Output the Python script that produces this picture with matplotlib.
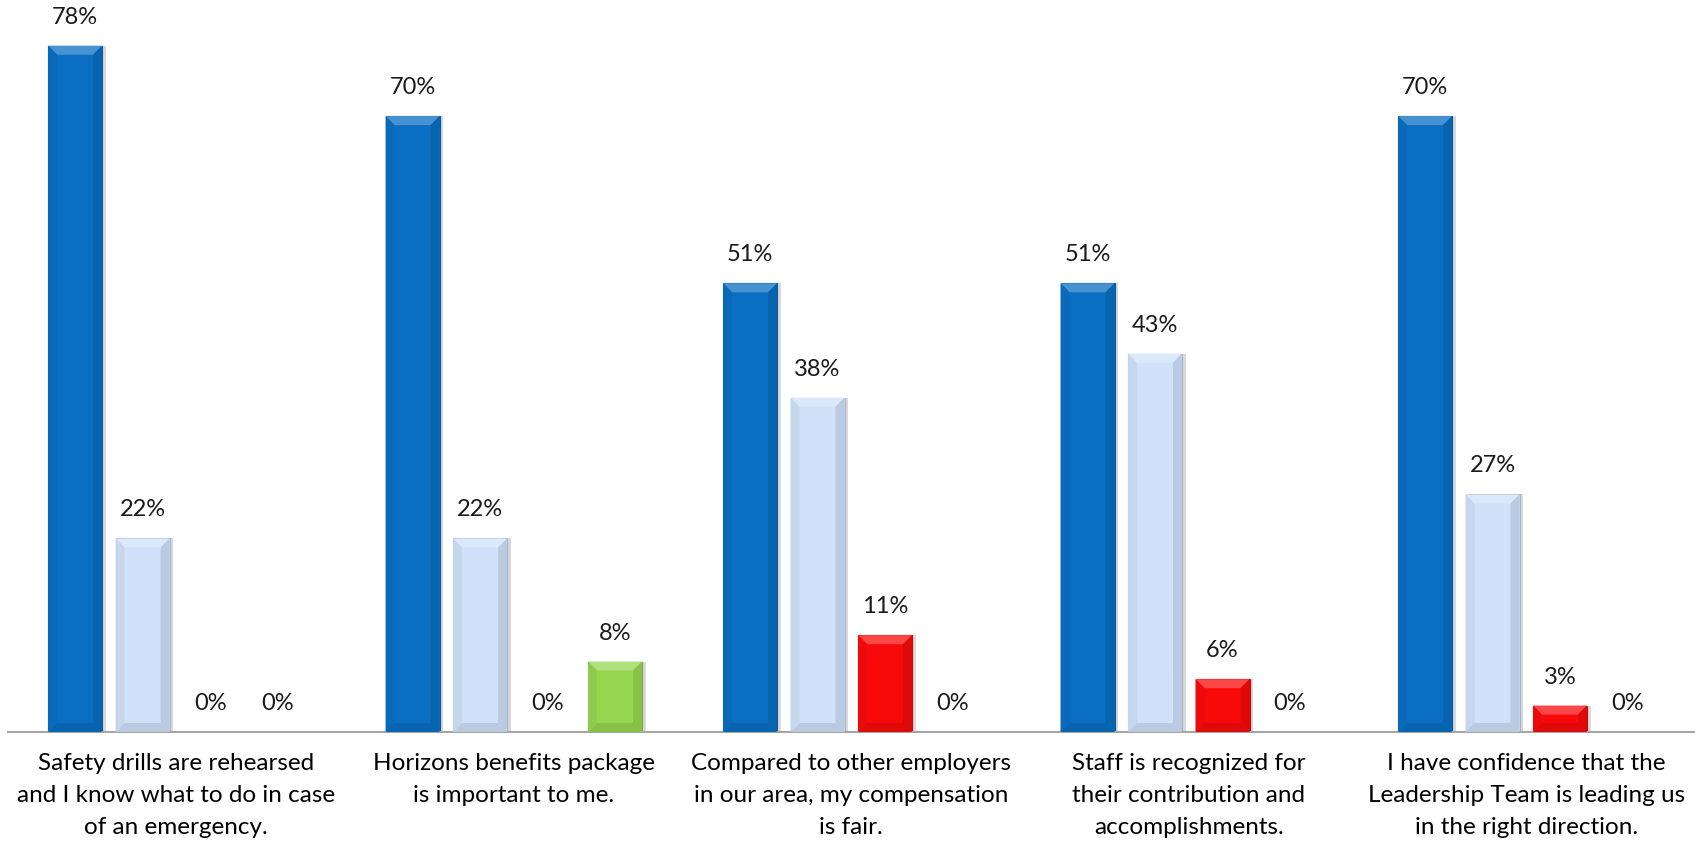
import numpy as np
import matplotlib.pyplot as plt
from matplotlib.patches import Polygon
import matplotlib.colors as mcolors

plt.rcParams['font.family'] = ['Lato', 'DejaVu Sans']

categories = [
    "Safety drills are rehearsed\nand I know what to do in case\nof an emergency.",
    "Horizons benefits package\nis important to me.",
    "Compared to other employers\nin our area, my compensation\nis fair.",
    "Staff is recognized for\ntheir contribution and\naccomplishments.",
    "I have confidence that the\nLeadership Team is leading us\nin the right direction.",
]
series_a = [78, 70, 51, 51, 70]   # dark blue
series_b = [22, 22, 38, 43, 27]   # light blue
series_c = [0, 0, 11, 6, 3]       # red
series_d = [0, 8, 0, 0, 0]        # green

series = [series_a, series_b, series_c, series_d]
colors = ['#0A6FC2', '#CFE2FA', '#F80A0A', '#96D650']

fig = plt.figure(figsize=(16.95, 8.43), dpi=100)
ax = fig.add_axes([0.0045, 0.1317, 0.9955, 0.8683])

x = np.arange(len(categories))
offsets = [-0.3, -0.1, 0.1, 0.3]
width = 0.16
ymax = 83.2
ax.set_xlim(-0.5, len(categories) - 0.5)
ax.set_ylim(0, ymax)

# size of the bevel, in pixels converted to data units
ax_w_px = fig.get_figwidth() * fig.dpi * 0.9955
ax_h_px = fig.get_figheight() * fig.dpi * 0.8683
bev_px = 9
bx = bev_px * len(categories) / ax_w_px
by = bev_px * ymax / ax_h_px


def shade(c, f):
    r, g, b = mcolors.to_rgb(c)
    if f > 1:
        t = f - 1
        return (r + (1 - r) * t, g + (1 - g) * t, b + (1 - b) * t)
    return (r * f, g * f, b * f)


for vals, col, off in zip(series, colors, offsets):
    bars = ax.bar(x + off, vals, width, color=col, edgecolor=shade(col, 0.8),
                  linewidth=0.8, zorder=2)
    for rect, v in zip(bars, vals):
        x0 = rect.get_x()
        w = rect.get_width()
        h = rect.get_height()
        if h > 0:
            b = min(by, h / 2)
            # top bevel (light)
            ax.add_patch(Polygon([(x0, h), (x0 + w, h), (x0 + w - bx, h - b), (x0 + bx, h - b)],
                                 closed=True, facecolor=shade(col, 1.25), edgecolor='none', zorder=3))
            # bottom bevel (dark)
            ax.add_patch(Polygon([(x0, 0), (x0 + w, 0), (x0 + w - bx, b), (x0 + bx, b)],
                                 closed=True, facecolor=shade(col, 0.9), edgecolor='none', zorder=3))
            # sides
            ax.add_patch(Polygon([(x0, 0), (x0 + bx, b), (x0 + bx, h - b), (x0, h)],
                                 closed=True, facecolor=shade(col, 0.95), edgecolor='none', zorder=3))
            ax.add_patch(Polygon([(x0 + w, 0), (x0 + w - bx, b), (x0 + w - bx, h - b), (x0 + w, h)],
                                 closed=True, facecolor=shade(col, 0.9), edgecolor='none', zorder=3))
            # shadow
            ax.add_patch(plt.Rectangle((x0 + w, 0), bx * 0.4, h, facecolor='#D9D9D9',
                                       edgecolor='none', zorder=1))
        ax.annotate(f"{v}%", (x0 + w / 2, h), xytext=(0, 13), textcoords='offset points',
                    ha='center', va='bottom', fontsize=17, color='#1a1a1a')

ax.set_xticks(x)
ax.set_xticklabels(categories, fontsize=17.5, linespacing=1.65)
ax.tick_params(axis='x', length=0, pad=15)
ax.set_yticks([])
for s in ['top', 'right', 'left']:
    ax.spines[s].set_visible(False)
ax.spines['bottom'].set_color('#A6A6A6')
ax.spines['bottom'].set_linewidth(1.5)

fig.savefig('out.png', dpi=100)
